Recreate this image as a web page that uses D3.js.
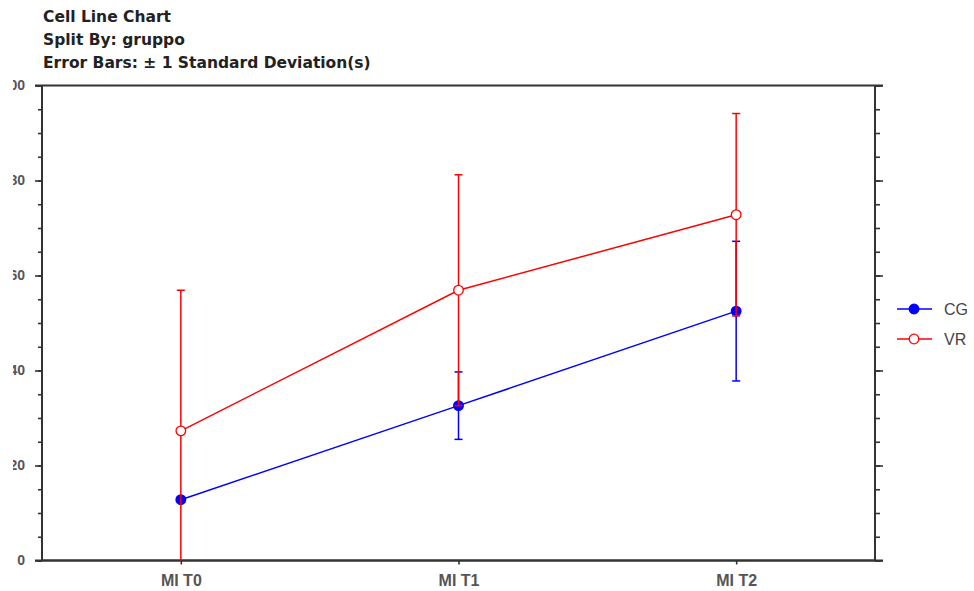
<!DOCTYPE html>
<html>
<head>
<meta charset="utf-8">
<script src="https://cdn.jsdelivr.net/npm/d3@7"></script>
<style>
  html, body { margin: 0; padding: 0; background: #fff; }
  svg { display: block; }
</style>
</head>
<body>
<svg id="chart" width="974" height="591"></svg>
<script>
// Cell line chart: group means with ±1 SD error bars
const titleLines = ["Cell Line Chart", "Split By: gruppo", "Error Bars: \u00b1 1 Standard Deviation(s)"];
const categories = ["MI T0", "MI T1", "MI T2"];
const seriesNames = ["CG", "VR"];
const cgMean = [12.8, 32.6, 52.5];
const cgSD = [0, 7.1, 14.7];
const vrMean = [27.3, 56.9, 72.8];
const vrSD = [29.6, 24.3, 21.3];
const majorTicks = [0, 20, 40, 60, 80, 100];
const minorTicks = d3.range(0, 101, 5);

const svg = d3.select("#chart");
const plotLeft = 42, plotRight = 875, plotTop = 85.5, plotBottom = 560.5;

const x = d3.scalePoint().domain(categories).range([plotLeft, plotRight]).padding(0.5);
const y = d3.scaleLinear().domain([0, 100]).range([plotBottom, plotTop]);

// clip regions for the title block and the y labels
const defs = svg.append("defs");
defs.append("clipPath").attr("id", "titleClip")
  .append("rect").attr("x", 0).attr("y", 10).attr("width", 974).attr("height", 70);
defs.append("clipPath").attr("id", "ylabClip")
  .append("rect").attr("x", 13).attr("y", 0).attr("width", 974).attr("height", 591);

svg.append("g").attr("clip-path", "url(#titleClip)")
  .selectAll("text").data(titleLines).join("text")
  .attr("x", 43).attr("y", (d, i) => 21.5 + i * 23.3)
  .attr("font-family", "DejaVu Sans, Verdana, sans-serif")
  .attr("font-weight", "bold").attr("font-size", 15.5).attr("fill", "#222")
  .text(d => d);

const axisColor = "#333";

// left axis: minor then major ticks with labels
const gLeftMinor = svg.append("g").attr("transform", `translate(${plotLeft},0)`)
  .call(d3.axisLeft(y).tickValues(minorTicks).tickSize(4).tickFormat(""));
const gLeftWrap = svg.append("g").attr("clip-path", "url(#ylabClip)");
const gLeft = gLeftWrap.append("g").attr("transform", `translate(${plotLeft},0)`)
  .call(d3.axisLeft(y).tickValues(majorTicks).tickSize(7).tickPadding(10));
gLeft.attr("font-size", 14);
gLeft.selectAll("text")
  .style("font-family", "Liberation Sans, Arial, sans-serif")
  .style("font-weight", "bold").style("font-size", "14px").attr("fill", "#555");

// right axis: ticks only
const gRightMinor = svg.append("g").attr("transform", `translate(${plotRight},0)`)
  .call(d3.axisRight(y).tickValues(minorTicks).tickSize(5).tickFormat(""));
const gRight = svg.append("g").attr("transform", `translate(${plotRight},0)`)
  .call(d3.axisRight(y).tickValues(majorTicks).tickSize(8).tickFormat(""));

// bottom axis
const gBottom = svg.append("g").attr("transform", `translate(0,${plotBottom})`)
  .call(d3.axisBottom(x).tickSize(4).tickPadding(10));
gBottom.selectAll("text")
  .attr("font-family", "Liberation Sans Narrow, Arial Narrow, sans-serif")
  .attr("font-weight", "bold").attr("font-size", 16).attr("fill", "#555");

// frame lines across top and bottom
const frame = svg.append("g").attr("class", "frame");
frame.selectAll("line").data([plotTop, plotBottom]).join("line")
  .attr("x1", plotLeft - 7).attr("x2", plotRight + 8)
  .attr("y1", d => d).attr("y2", d => d)
  .attr("stroke", axisColor).attr("stroke-width", 2);

svg.selectAll(".domain").attr("stroke", axisColor).attr("stroke-width", 2);
svg.selectAll(".tick line").attr("stroke", axisColor).attr("stroke-width", 1.6);
[gLeft, gLeftMinor, gRight, gRightMinor].forEach(g =>
  g.select(".domain").attr("d", `M0,${plotTop}V${plotBottom}`));
gBottom.select(".domain").attr("d", `M${plotLeft},0H${plotRight}`);

const series = [
  { name: seriesNames[0], mean: cgMean, sd: cgSD, color: "#0000ff", fill: "#0000ff" },
  { name: seriesNames[1], mean: vrMean, sd: vrSD, color: "#ff0000", fill: "#ffffff" }
];

const lineGen = d3.line().x((d, i) => x(categories[i])).y(d => y(d));
const capHalf = 4;

series.forEach(s => {
  const g = svg.append("g");
  g.append("path").datum(s.mean).attr("d", lineGen)
    .attr("fill", "none").attr("stroke", s.color).attr("stroke-width", 1.5);
  const eb = g.selectAll(".eb").data(s.mean).join("g").attr("class", "eb");
  eb.each(function (m, i) {
    const cx = x(categories[i]);
    const lo = m - s.sd[i], hi = m + s.sd[i];
    const loC = Math.max(0, lo), hiC = Math.min(100, hi);
    const e = d3.select(this);
    e.append("line").attr("x1", cx).attr("x2", cx)
      .attr("y1", y(loC)).attr("y2", y(hiC))
      .attr("stroke", s.color).attr("stroke-width", 1.5);
    if (hi <= 100) e.append("line").attr("x1", cx - capHalf).attr("x2", cx + capHalf)
      .attr("y1", y(hi)).attr("y2", y(hi)).attr("stroke", s.color).attr("stroke-width", 1.5);
    if (lo >= 0) e.append("line").attr("x1", cx - capHalf).attr("x2", cx + capHalf)
      .attr("y1", y(lo)).attr("y2", y(lo)).attr("stroke", s.color).attr("stroke-width", 1.5);
  });
  g.selectAll("circle").data(s.mean).join("circle")
    .attr("cx", (d, i) => x(categories[i])).attr("cy", d => y(d))
    .attr("r", 4.8).attr("fill", s.fill).attr("stroke", s.color).attr("stroke-width", 1.3);
});

// legend
const legend = svg.append("g");
const leg = legend.selectAll("g").data(series).join("g")
  .attr("transform", (d, i) => `translate(0,${309 + i * 30})`);
leg.append("line").attr("x1", 897).attr("x2", 932).attr("y1", 0).attr("y2", 0)
  .attr("stroke", d => d.color).attr("stroke-width", 1.5);
leg.append("circle").attr("cx", 914).attr("cy", 0).attr("r", 4.8)
  .attr("fill", d => d.fill).attr("stroke", d => d.color).attr("stroke-width", 1.3);
leg.append("text").attr("x", 944).attr("y", 0).attr("dy", "0.36em")
  .attr("font-family", "Liberation Sans, Arial, sans-serif")
  .attr("font-size", 16).attr("fill", "#444")
  .text(d => d.name);
</script>
</body>
</html>
